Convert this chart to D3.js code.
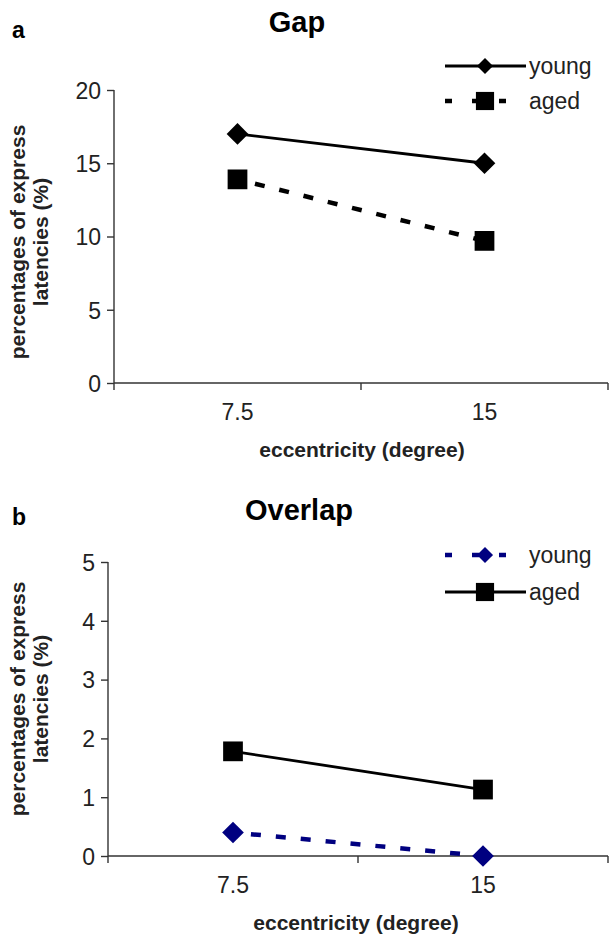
<!doctype html>
<html>
<head>
<script type='text/javascript' src='https://d3js.org/d3.v7.min.js'></script>
<style>
body { margin:0; background:#fff; }
text { font-family: "Liberation Sans", Arial, sans-serif; }
</style>
</head>
<body>
<script>
var width = 610, height = 937;
// data
var categories = ['7.5', '15'];
var gapYoung = [17, 15];
var gapAged = [13.9, 9.7];
var overlapYoung = [0.4, 0.0];
var overlapAged = [1.78, 1.13];
var gapTicks = [0, 5, 10, 15, 20];
var overlapTicks = [0, 1, 2, 3, 4, 5];

var svg = d3.select('body').append('svg').attr('width', width).attr('height', height);
var FONT = '"Liberation Sans", Arial, sans-serif';

function panel(opt) {
  var g = svg.append('g');
  var right = 608;
  var x = d3.scaleBand().domain(categories).range([opt.left, right]);
  var y = d3.scaleLinear().domain([0, opt.max]).range([opt.bottom, opt.top]);

  // letter + title
  g.append('text').attr('x', 12).attr('y', opt.letterY).attr('font-size', 23).attr('font-weight', 'bold').text(opt.letter);
  g.append('text').attr('x', opt.titleX).attr('y', opt.titleY).attr('font-size', 29).attr('font-weight', 'bold')
    .attr('text-anchor', 'middle').text(opt.title);

  // y axis
  var ya = g.append('g').attr('transform', 'translate(' + opt.left + ',0)')
    .call(d3.axisLeft(y).tickValues(opt.ticks).tickFormat(d3.format('d')).tickSize(7).tickPadding(6));
  ya.selectAll('text').attr('font-size', 23).attr('font-family', FONT).attr('fill', '#222').attr('dy', '0.36em');
  ya.selectAll('line').attr('stroke', '#333').attr('stroke-width', 1.4);
  ya.select('.domain').attr('d', 'M0,' + opt.top + 'V' + opt.bottom).attr('stroke', '#333').attr('stroke-width', 1.4);

  // x axis
  var xa = g.append('g').attr('transform', 'translate(0,' + opt.bottom + ')')
    .call(d3.axisBottom(x).tickSize(0).tickPadding(21));
  xa.selectAll('text').attr('font-size', 23).attr('font-family', FONT).attr('fill', '#222');
  xa.select('.domain').attr('d', 'M' + opt.left + ',0H' + right).attr('stroke', '#333').attr('stroke-width', 1.4);
  var bounds = [opt.left, opt.left + x.bandwidth(), right];
  xa.selectAll('.btick').data(bounds).join('line').attr('class', 'btick')
    .attr('x1', function(d){return d}).attr('x2', function(d){return d})
    .attr('y1', 0).attr('y2', 7).attr('stroke', '#333').attr('stroke-width', 1.4);

  // axis titles
  g.append('text').attr('x', opt.xTitleX).attr('y', opt.bottom + 74).attr('text-anchor', 'middle')
    .attr('font-size', 21).attr('font-weight', 'bold').attr('fill', '#222').text('eccentricity (degree)');
  var yt = g.append('text').attr('transform', 'translate(25,' + opt.labelCy + ') rotate(-90)').attr('text-anchor', 'middle')
    .attr('font-size', 21).attr('font-weight', 'bold').attr('fill', '#222');
  yt.append('tspan').attr('x', 0).attr('dy', 0).text('percentages of express');
  yt.append('tspan').attr('x', 0).attr('dy', 23).text('latencies (%)');

  var cx = function(i){return x(categories[i]) + x.bandwidth() / 2};
  var line = d3.line().x(function(d, i){return cx(i)}).y(function(d){return y(d)});
  var diamond = d3.symbol().type(d3.symbolDiamond2).size(300);
  var square = d3.symbol().type(d3.symbolSquare).size(390);

  opt.series.forEach(function(s, k) {
    g.append('path').datum(s.values).attr('d', line).attr('fill', 'none')
      .attr('stroke', s.color).attr('stroke-width', s.dash ? 4.5 : 2.8)
      .attr('stroke-dasharray', s.dash ? '10,15' : null)
      .attr('stroke-dashoffset', s.dash ? -18 : 0);
    g.selectAll('.m' + k).data(s.values).join('path').attr('class', 'm' + k)
      .attr('transform', function(d, i){return 'translate(' + cx(i) + ',' + y(d) + ')'})
      .attr('d', s.shape === 'diamond' ? diamond : square).attr('fill', s.color);

    // legend
    var ly = opt.legendY + k * opt.legendStep;
    g.append('line').attr('x1', 445).attr('x2', 526).attr('y1', ly).attr('y2', ly)
      .attr('stroke', s.color).attr('stroke-width', s.dash ? 4.5 : 2.8)
      .attr('stroke-dasharray', s.dash ? '7,20' : null);
    g.append('path').attr('transform', 'translate(485,' + ly + ')')
      .attr('d', s.shape === 'diamond' ? d3.symbol().type(d3.symbolDiamond2).size(165) : d3.symbol().type(d3.symbolSquare).size(330))
      .attr('fill', s.color);
    g.append('text').attr('x', 529).attr('y', ly + 8).attr('font-size', 23).attr('fill', '#222').text(s.name);
  });
}

panel({
  letter: 'a', letterY: 38, title: 'Gap', titleX: 297, titleY: 32, left: 114, top: 90, bottom: 383, max: 20, ticks: gapTicks,
  legendY: 66, legendStep: 35, labelCy: 242, xTitleX: 362,
  series: [
    {name: 'young', values: gapYoung, color: '#000', dash: false, shape: 'diamond'},
    {name: 'aged', values: gapAged, color: '#000', dash: true, shape: 'square'}
  ]
});

panel({
  letter: 'b', letterY: 525, title: 'Overlap', titleX: 299, titleY: 520, left: 108, top: 562, bottom: 856, max: 5, ticks: overlapTicks,
  legendY: 555, legendStep: 37, labelCy: 699, xTitleX: 356,
  series: [
    {name: 'young', values: overlapYoung, color: '#000080', dash: true, shape: 'diamond'},
    {name: 'aged', values: overlapAged, color: '#000', dash: false, shape: 'square'}
  ]
});
console.log('ready..');
</script>
</body>
</html>
